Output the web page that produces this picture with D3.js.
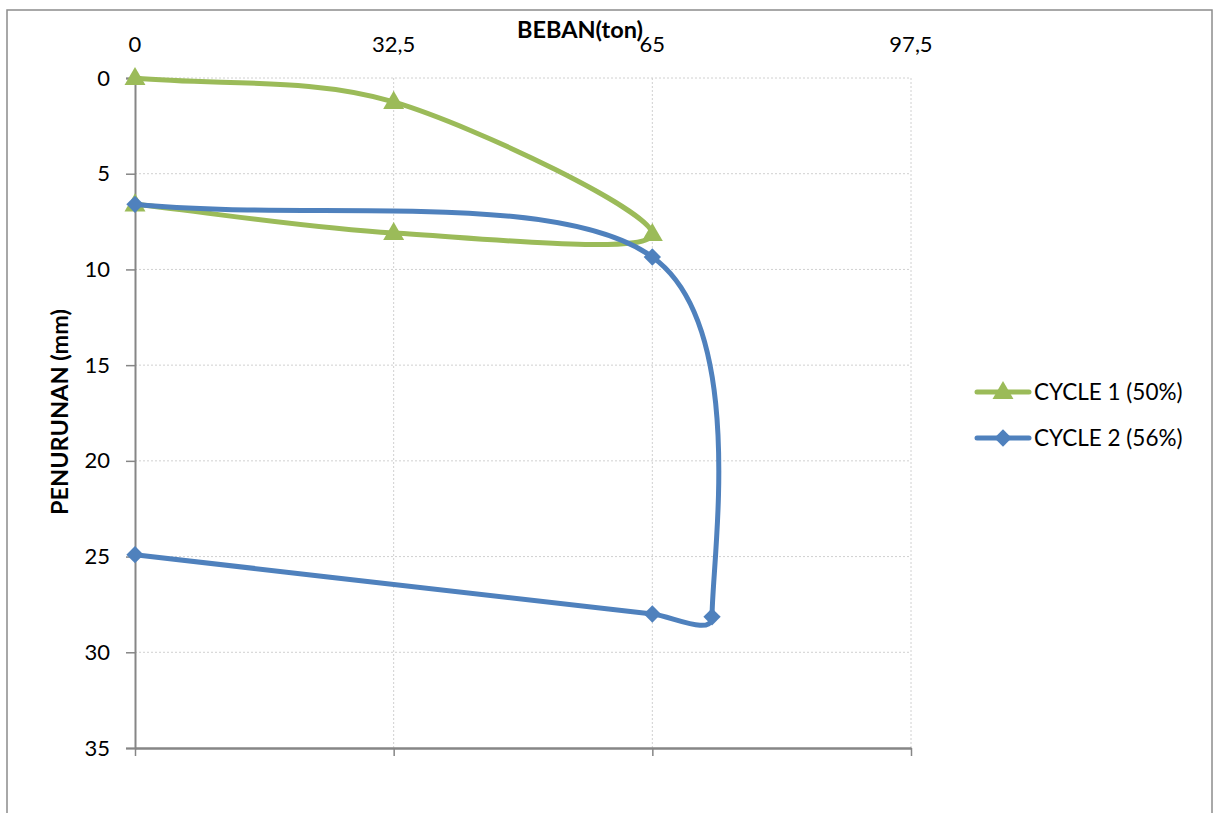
<!DOCTYPE html>
<html><head><meta charset="utf-8">
<script src="https://cdn.jsdelivr.net/npm/d3@7"></script>
<style>body{margin:0;background:#fff}svg{display:block}</style>
</head><body>
<svg id="c" width="1215" height="813"></svg>
<script>
const xTicks = [0, 32.5, 65, 97.5];
const xTickLabels = ["0", "32,5", "65", "97,5"];
const yTicks = [0, 5, 10, 15, 20, 25, 30, 35];
const seriesNames = ["CYCLE 1 (50%)", "CYCLE 2 (56%)"];
const cycle1Load = [0, 32.5, 65, 32.5, 0];
const cycle1Settle = [0, 1.25, 8.15, 8.1, 6.6];
const cycle2Load = [0, 65, 72.5, 65, 0];
const cycle2Settle = [6.6, 9.35, 28.15, 28.0, 24.9];

const svg = d3.select("#c");
const font = "Lato, 'Open Sans', sans-serif";
const x = d3.scaleLinear().domain([0, 97.5]).range([135, 911]);
const y = d3.scaleLinear().domain([0, 35]).range([78, 748]);

// chart border
svg.append("rect").attr("x", 7).attr("y", 10).attr("width", 1205).attr("height", 820)
  .attr("fill", "#fff").attr("stroke", "#8c8c8c").attr("stroke-width", 1.5);

// gridlines
svg.append("g").selectAll("line").data(yTicks.slice(0, -1)).join("line")
  .attr("x1", x(0)).attr("x2", x(97.5)).attr("y1", d => y(d)).attr("y2", d => y(d))
  .attr("stroke", "#d0d0d0").attr("stroke-width", 1).attr("stroke-dasharray", "2,2");
svg.append("g").selectAll("line").data(xTicks.slice(1)).join("line")
  .attr("x1", d => x(d)).attr("x2", d => x(d)).attr("y1", y(0)).attr("y2", y(35))
  .attr("stroke", "#d0d0d0").attr("stroke-width", 1).attr("stroke-dasharray", "2,2");

// y axis
const yAxis = svg.append("g").attr("transform", `translate(${x(0)},0)`)
  .call(d3.axisLeft(y).tickValues(yTicks).tickSize(9).tickPadding(16).tickFormat(d3.format("d")));
yAxis.select(".domain").attr("stroke", "#868686").attr("stroke-width", 2);
yAxis.selectAll(".tick line").attr("stroke", "#868686").attr("stroke-width", 1.5);
yAxis.selectAll("text").attr("font-family", font).attr("font-size", 22).attr("fill", "#000");

// x axis (line at bottom, labels on top)
const xAxis = svg.append("g").attr("transform", `translate(0,${y(35)})`)
  .call(d3.axisBottom(x).tickValues(xTicks).tickSize(8).tickSizeOuter(0).tickFormat(""));
xAxis.select(".domain").attr("stroke", "#868686").attr("stroke-width", 2.5);
xAxis.selectAll(".tick line").attr("stroke", "#868686").attr("stroke-width", 1.5);

svg.append("g").selectAll("text").data(xTicks).join("text")
  .attr("x", d => x(d)).attr("y", 52).attr("text-anchor", "middle")
  .attr("font-family", font).attr("font-size", 22).attr("fill", "#000")
  .text((d, i) => xTickLabels[i]);

// axis titles
svg.append("text").attr("x", 580).attr("y", 38).attr("text-anchor", "middle")
  .attr("font-family", font).attr("font-size", 23.5).attr("font-weight", "bold").text("BEBAN(ton)");
svg.append("text").attr("transform", "translate(68,412) rotate(-90)").attr("text-anchor", "middle")
  .attr("font-family", font).attr("font-size", 23.5).attr("font-weight", "bold").text("PENURUNAN (mm)");

// Excel-like smoothed line: cubic Bezier, tangents (P[i+1]-P[i-1])/6, arms capped on short segments
function smoothPath(pts) {
  const p = pts.map(d => [x(d[0]), y(d[1])]);
  const n = p.length;
  const dist = (a, b) => Math.hypot(b[0] - a[0], b[1] - a[1]);
  let s = `M${p[0][0]},${p[0][1]}`;
  for (let i = 0; i < n - 1; i++) {
    const a = p[i], b = p[i + 1];
    const len = dist(a, b);
    let t1, t2;
    if (i === 0) t1 = [(b[0] - a[0]) / 3, (b[1] - a[1]) / 3];
    else t1 = [(b[0] - p[i - 1][0]) / 6, (b[1] - p[i - 1][1]) / 6];
    if (i === n - 2) t2 = [(b[0] - a[0]) / 3, (b[1] - a[1]) / 3];
    else t2 = [(p[i + 2][0] - a[0]) / 6, (p[i + 2][1] - a[1]) / 6];
    const cap = (t) => {
      const l = Math.hypot(t[0], t[1]), m = 0.33 * len;
      return l > m ? [t[0] * m / l, t[1] * m / l] : t;
    };
    t1 = cap(t1); t2 = cap(t2);
    s += `C${a[0] + t1[0]},${a[1] + t1[1]} ${b[0] - t2[0]},${b[1] - t2[1]} ${b[0]},${b[1]}`;
  }
  return s;
}

const c1 = cycle1Load.map((v, i) => [v, cycle1Settle[i]]);
const c2 = cycle2Load.map((v, i) => [v, cycle2Settle[i]]);
const green = "#9BBB59", blue = "#4F81BD";
const tri = d3.symbol().type(d3.symbolTriangle).size(190);
const dia = d3.symbol().type(d3.symbolSquare).size(150);

function drawSeries(data, color, marker, rot) {
  svg.append("path").attr("d", smoothPath(data)).attr("fill", "none")
    .attr("stroke", color).attr("stroke-width", 5).attr("stroke-linecap", "round");
  svg.append("g").selectAll("path").data(data).join("path")
    .attr("d", marker).attr("fill", color)
    .attr("transform", d => `translate(${x(d[0])},${y(d[1]) + (rot ? 0 : 1)}) rotate(${rot})`);
}
drawSeries(c1, green, tri, 0);
drawSeries(c2, blue, dia, 45);

// legend
const lg = svg.append("g");
[green, blue].forEach((col, i) => {
  const ly = 392 + i * 46;
  lg.append("line").attr("x1", 977).attr("x2", 1029).attr("y1", ly).attr("y2", ly)
    .attr("stroke", col).attr("stroke-width", 5).attr("stroke-linecap", "round");
  lg.append("path").attr("d", i === 0 ? tri : dia).attr("fill", col)
    .attr("transform", `translate(1003,${ly + (i === 0 ? 1 : 0)}) rotate(${i === 0 ? 0 : 45})`);
  lg.append("text").attr("x", 1034).attr("y", ly + 8).attr("font-family", font)
    .attr("font-size", 22.5).attr("fill", "#000").text(seriesNames[i]);
});
</script>
</body></html>
